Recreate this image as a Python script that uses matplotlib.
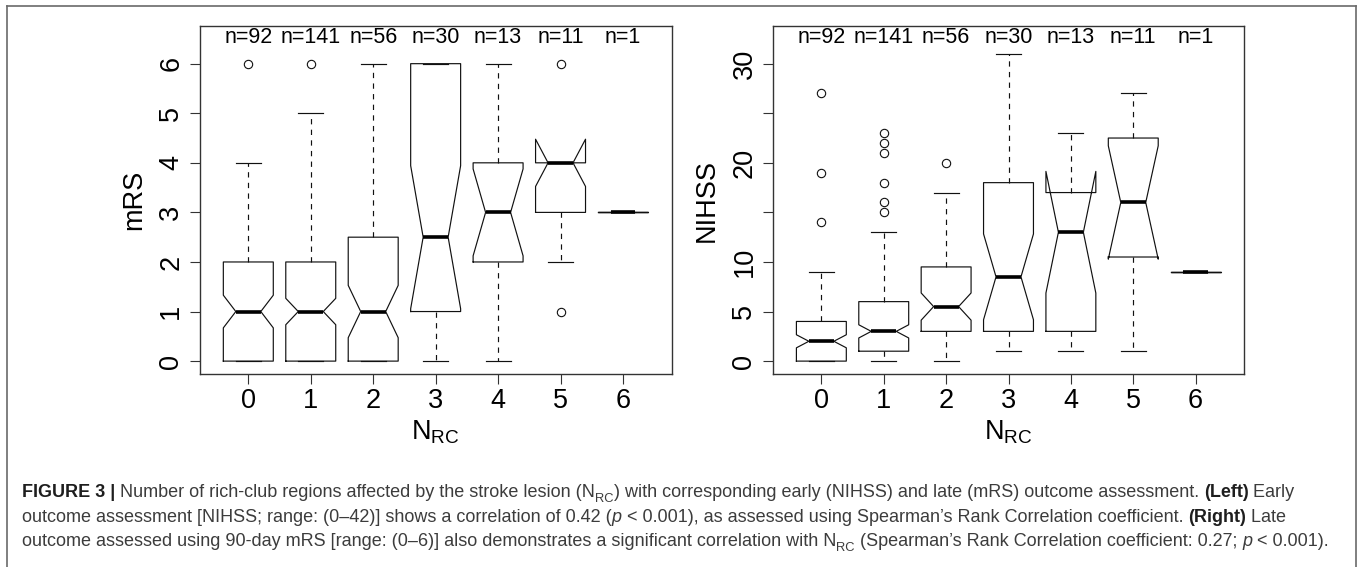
import numpy as np
import matplotlib
matplotlib.use("Agg")
import matplotlib.pyplot as plt
from matplotlib.lines import Line2D
from matplotlib.font_manager import FontProperties
import matplotlib.transforms as mtransforms

plt.rcParams['font.family'] = ['Liberation Sans', 'DejaVu Sans']
plt.rcParams['mathtext.default'] = 'regular'

# ---------------- data ----------------
groups = [0, 1, 2, 3, 4, 5, 6]
n_counts = [92, 141, 56, 30, 13, 11, 1]

# mRS (left panel)
mrs_q1 = [0, 0, 0, 1, 2, 3, 3]
mrs_med = [1, 1, 1, 2.5, 3, 4, 3]
mrs_q3 = [2, 2, 2.5, 6, 4, 4, 3]
mrs_wlo = [0, 0, 0, 0, 0, 2, 3]
mrs_whi = [4, 5, 6, 6, 6, 4, 3]
mrs_out = [[6], [6], [], [], [], [6, 1], []]

# NIHSS (right panel)
nih_q1 = [0, 1, 3, 3, 3, 10.5, 9]
nih_med = [2, 3, 5.5, 8.5, 13, 16, 9]
nih_q3 = [4, 6, 9.5, 18, 17, 22.5, 9]
nih_wlo = [0, 0, 0, 1, 1, 1, 9]
nih_whi = [9, 13, 17, 31, 23, 27, 9]
nih_out = [[14, 19, 27], [15, 16, 18, 21, 22, 23], [20], [], [], [], []]

mrs_ticks = [0, 1, 2, 3, 4, 5, 6]
mrs_ticklabels = ['0', '1', '2', '3', '4', '5', '6']
nih_ticks = [0, 5, 10, 15, 20, 25, 30]
nih_ticklabels = ['0', '5', '10', '', '20', '', '30']

# ---------------- figure ----------------
W, H = 1362, 567
fig = plt.figure(figsize=(W / 100, H / 100), dpi=100)
fig.patch.set_facecolor('white')


def px_rect(x0, y0, x1, y1):
    return [x0 / W, 1 - y1 / H, (x1 - x0) / W, (y1 - y0) / H]


axL = fig.add_axes(px_rect(199.6, 26, 671.7, 374))
axR = fig.add_axes(px_rect(772.7, 26, 1244.3, 374))

BOXC = '#111111'
SPINEC = '#333333'
LW = 0.85


def make_stats(q1, med, q3, wlo, whi, outs, ns):
    stats = []
    for a, m, b, lo, hi, o, n in zip(q1, med, q3, wlo, whi, outs, ns):
        half = 1.58 * (b - a) / np.sqrt(n)  # R notch definition
        stats.append(dict(q1=a, med=m, q3=b, whislo=lo, whishi=hi,
                          fliers=o, cilo=m - half, cihi=m + half))
    return stats


def draw_panel(ax, stats, ylim, yticks, yticklabels, ylabel):
    ax.bxp(stats, positions=groups, widths=0.8, shownotches=True,
           boxprops=dict(color=BOXC, lw=LW),
           whiskerprops=dict(color=BOXC, lw=LW, linestyle=(0, (4.5, 4.5))),
           capprops=dict(color=BOXC, lw=LW),
           medianprops=dict(color='black', lw=2.6, solid_capstyle='butt'),
           flierprops=dict(marker='o', markersize=6.0, markerfacecolor='none',
                           markeredgecolor=BOXC, markeredgewidth=0.8,
                           linestyle='none'),
           manage_ticks=False)
    ax.set_xlim(-0.78, 6.78)
    ax.set_ylim(*ylim)
    ax.set_xticks(groups)
    ax.set_xticklabels([str(g) for g in groups])
    ax.set_yticks(yticks)
    ax.set_yticklabels(yticklabels, rotation=90, va='center')
    for s in ax.spines.values():
        s.set_color(SPINEC)
        s.set_linewidth(1.0)
    ax.tick_params(axis='both', direction='out', length=7, width=0.8,
                   color=SPINEC, labelsize=19.5, labelcolor='black')
    ax.tick_params(axis='x', pad=3)
    ax.tick_params(axis='y', pad=4)
    # n labels
    trans = mtransforms.blended_transform_factory(ax.transData, ax.transAxes)
    for g, n in zip(groups, n_counts):
        ax.text(g, 0.950, f'n={n}', transform=trans, ha='center',
                va='baseline', fontsize=15.5, color='black')
    # axis labels
    ax.text(-0.139, 0.5, ylabel, transform=ax.transAxes, rotation=90,
            ha='center', va='center', fontsize=19.5)
    ax.text(3, -0.187, 'N$_{RC}$', transform=trans, ha='center',
            va='baseline', fontsize=19.5)


draw_panel(axL, make_stats(mrs_q1, mrs_med, mrs_q3, mrs_wlo, mrs_whi,
                           mrs_out, n_counts),
           (-0.26, 6.76), mrs_ticks, mrs_ticklabels, 'mRS')
draw_panel(axR, make_stats(nih_q1, nih_med, nih_q3, nih_wlo, nih_whi,
                           nih_out, n_counts),
           (-1.3, 33.8), nih_ticks, nih_ticklabels, 'NIHSS')

# ---------------- outer frame ----------------
FRC = '#6a6a6a'
for xs, ys in [([7, 7], [6, 570]), ([1355.5, 1355.5], [6, 570]),
               ([7, 1355.5], [6, 6])]:
    fig.add_artist(Line2D([x / W for x in xs], [1 - y / H for y in ys],
                          transform=fig.transFigure, color=FRC, lw=1.2))

# ---------------- caption ----------------
renderer = fig.canvas.get_renderer()
CAPC = '#3c3c3c'


def text_width(s, size, weight='normal', style='normal'):
    prop = FontProperties(family=['Liberation Sans'], size=size,
                          weight=weight, style=style)
    w1, _, _ = renderer.get_text_width_height_descent('|' + s + '|', prop, ismath=False)
    w0, _, _ = renderer.get_text_width_height_descent('||', prop, ismath=False)
    return w1 - w0


R_ = ('normal', 'normal', 1.0, 0.0)
B_ = ('bold', 'normal', 1.0, 0.0)
I_ = ('normal', 'italic', 1.0, 0.0)
S_ = ('normal', 'normal', 0.72, 0.28)

line1 = [("FIGURE 3 |", B_),
         (" Number of rich-club regions affected by the stroke lesion (N", R_),
         ("RC", S_),
         (") with corresponding early (NIHSS) and late (mRS) outcome assessment. ", R_),
         ("(Left)", B_), (" Early", R_)]
line2 = [("outcome assessment [NIHSS; range: (0\u201342)] shows a correlation of 0.42 (", R_),
         ("p", I_), (" < 0.001), as assessed using Spearman\u2019s Rank Correlation coefficient. ", R_),
         ("(Right)", B_), (" Late", R_)]
line3 = [("outcome assessed using 90-day mRS [range: (0\u20136)] also demonstrates a significant correlation with N", R_),
         ("RC", S_),
         (" (Spearman\u2019s Rank Correlation coefficient: 0.27; ", R_),
         ("p", I_), (" < 0.001).", R_)]


def line_width(runs, size):
    return sum(text_width(t, size * st[2], st[0], st[1]) for t, st in runs)


base = 12.0
target = 1327 - 22
cap_size = base * target / line_width(line3, base)


def draw_line(runs, x0, yb, size):
    x = x0
    for t, st in runs:
        weight, style, scale, drop = st
        sz = size * scale
        col = '#1e1e1e' if weight == 'bold' else CAPC
        yy = yb + drop * size * 100 / 72
        fig.text(x / W, 1 - yy / H, t, fontsize=sz, fontweight=weight,
                 fontstyle=style, color=col, ha='left', va='baseline',
                 family=['Liberation Sans'])
        x += text_width(t, sz, weight, style)


draw_line(line1, 22, 497, cap_size)
draw_line(line2, 22, 521.5, cap_size)
draw_line(line3, 22, 546, cap_size)

fig.savefig('out.png', dpi=100, facecolor='white')
